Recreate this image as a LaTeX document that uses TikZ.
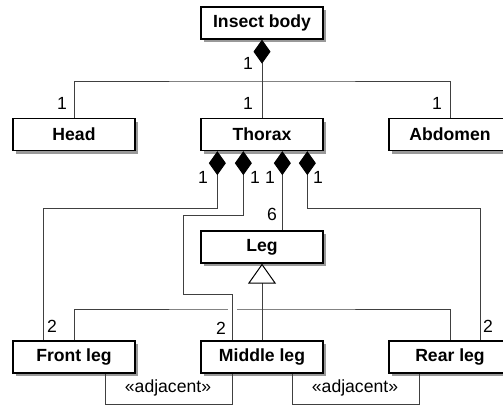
\documentclass[tikz,border=0pt]{standalone}
\usepackage{fontspec}
\setmainfont{Liberation Sans}
\usetikzlibrary{arrows.meta,shadows}

\begin{document}
\begin{tikzpicture}[
  x=1pt,y=-1pt,
  cls/.style={draw,line width=1.3pt,fill=white,minimum width=122pt,minimum height=32pt,inner sep=0pt,
    font=\fontsize{17.6}{20}\selectfont\bfseries,
    drop shadow={shadow xshift=3pt,shadow yshift=-3pt,fill=black!40,opacity=1}},
  link/.style={draw=black!75,line width=1pt},
  comp/.style={link,{Diamond[length=24pt,width=17pt,color=black,fill=black]}-},
  gen/.style={link,-{Triangle[open,length=20pt,width=28pt,color=black,fill=white]}},
  mult/.style={font=\fontsize{17.6}{20}\selectfont,inner sep=0pt},
]
\path[use as bounding box,clip] (0,0) rectangle (503,405);

% classes
\node[cls] (body) at (262,23) {Insect body};
\node[cls] (head) at (74,134.5) {Head};
\node[cls] (thorax) at (262,134.5) {Thorax};
\node[cls] (abdomen) at (450,134.5) {Abdomen};
\node[cls] (leg) at (262,247) {Leg};
\node[cls] (front) at (74,357) {Front leg};
\node[cls] (middle) at (262,357) {Middle leg};
\node[cls] (rear) at (450,357) {Rear leg};

\coordinate (tree) at (262,81);
\coordinate (genbar) at (262,309);

% body parts
\draw[comp] (body.south) -- (thorax.north);
\draw[link] (head.north) |- (tree) -| (abdomen.north);
\node[mult] (mb) at (248,63) {1};
\node[mult] (mt) at (248,103) {1};
\node[mult] (mh) at (62,103) {1};
\node[mult] (ma) at (437,103) {1};

% generalization
\draw[gen] (middle.north) -- (leg.south);
\draw[link] (front.north) |- (genbar) -| (rear.north);
\draw[white,line width=9pt] ([xshift=-30pt]middle.north) ++(0,-28) -- ++(0,-8);

% thorax compositions
\draw[comp] ([xshift=17pt]thorax.south west) -- ++(0,57) -| ([xshift=-31pt]front.north);
\draw[comp] ([xshift=43pt]thorax.south west) -- ++(0,64) -- ++(-60,0) -- ++(0,79) -| ([xshift=-30pt]middle.north);
\draw[comp] ([xshift=82pt]thorax.south west) -- ([xshift=82pt]leg.north west);
\draw[comp] ([xshift=107pt]thorax.south west) -- ++(0,57) -| ([xshift=30pt]rear.north);
\node[mult] (m1) at (203,177.5) {1};
\node[mult] (m2) at (255,177.5) {1};
\node[mult] (m3) at (270,177.5) {1};
\node[mult] (m4) at (318,177.5) {1};
\node[mult] (m6) at (272,214) {6};
\node[mult] (mf) at (52,326) {2};
\node[mult] (mm) at (221,328) {2};
\node[mult] (mr) at (488,326) {2};

% adjacency
\draw[link] ([xshift=31pt]front.south) -- ++(0,30.5) -| ([xshift=-30pt]middle.south);
\draw[link] ([xshift=30pt]middle.south) -- ++(0,30.5) -| ([xshift=-31pt]rear.south);
\node[mult] (adj1) at (168,388) {«adjacent»};
\node[mult] (adj2) at (355,388) {«adjacent»};
\end{tikzpicture}
\end{document}
